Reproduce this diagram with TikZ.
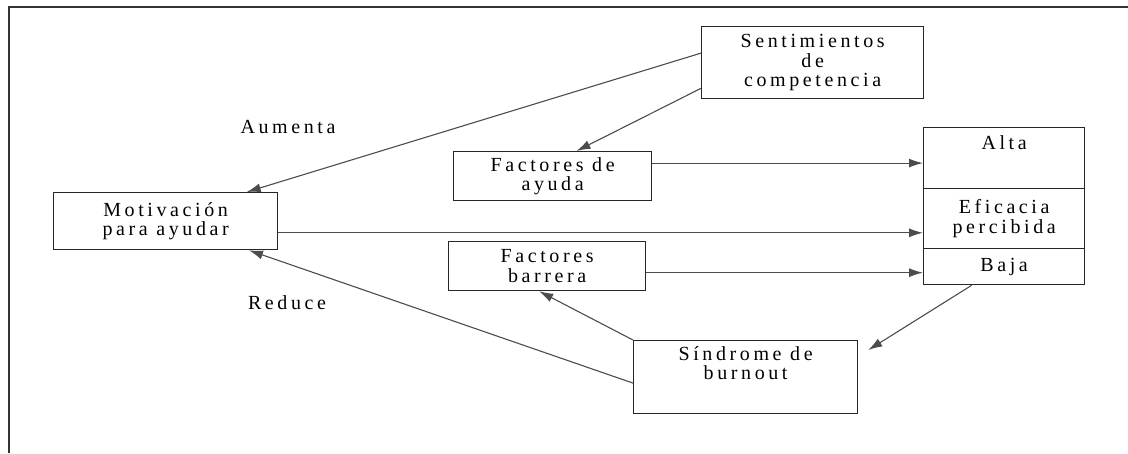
\documentclass[tikz,border=0pt]{standalone}
\usepackage{fontspec}
\setmainfont{Liberation Serif}[LetterSpace=18]
\usepackage{tikz}
\usetikzlibrary{arrows.meta,calc}
\tikzstyle{box} = [rectangle, draw=black!85, line width=1.3pt, anchor=north west, inner sep=0pt, align=center]
\tikzstyle{txt} = [anchor=north, inner sep=0pt, align=center]
\tikzstyle{arrow} = [draw=black!70, line width=1.1pt, -{Latex[length=14pt,width=9pt]}]

\begin{document}
\begin{tikzpicture}[x=1pt, y=-1pt, font=\rmfamily\fontsize{20}{19.5}\selectfont]
\useasboundingbox (0,0) rectangle (1128,453);
\draw [line width=2pt, black!80] (1128,7) -- (9,7) -- (9,453);

\node (sent) [box, minimum width=222pt, minimum height=72pt] at (701,26) {Sentimientos\\de\\competencia};
\node (fayuda) [box, minimum width=198pt, minimum height=49pt] at (453,151) {Factores de\\ayuda};
\node (fbar) [box, minimum width=197pt, minimum height=49pt] at (448,241) {Factores\\barrera};
\node (motiv) [box, minimum width=224pt, minimum height=57pt] at (53,192) {Motivación\\para ayudar};
\node (alta) [box, minimum width=161pt, minimum height=61pt] at (923,127) {};
\node (altatxt) [txt] at ([yshift=-8pt]alta.north) {Alta};
\node (efic) [box, minimum width=161pt, minimum height=60pt] at (923,188) {Eficacia\\percibida};
\node (baja) [box, minimum width=161pt, minimum height=36pt] at (923,248) {Baja};
\node (sind) [box, minimum width=224pt, minimum height=73pt] at (633,340) {};
\node (sindtxt) [txt] at ([yshift=-6pt]sind.north) {Síndrome de\\burnout};
\node (aumenta) at (288,127) {Aumenta};
\node (reduce) at (287,303) {Reduce};

%---------------------------------ARROWS
\draw [arrow] ($(sent.north west)!0.37!(sent.south west)$) -- ($(motiv.north west)!0.86!(motiv.north east)$);
\draw [arrow] ($(sent.north west)!0.85!(sent.south west)$) -- ($(fayuda.north west)!0.62!(fayuda.north east)$);
\draw [arrow] ($(fayuda.north east)!0.24!(fayuda.south east)$) coordinate (a3) -- (a3 -| alta.west);
\draw [arrow] ($(motiv.north east)!0.7!(motiv.south east)$) coordinate (a4) -- (a4 -| efic.west);
\draw [arrow] ($(fbar.north east)!0.63!(fbar.south east)$) coordinate (a5) -- (a5 -| baja.west);
\draw [arrow] ($(baja.south west)!0.3!(baja.south east)$) -- ($(sind.north east)+(10,10)$);
\draw [arrow] (sind.north west) -- ($(fbar.south west)!0.46!(fbar.south east)$);
\draw [arrow] ($(sind.north west)!0.58!(sind.south west)$) -- ($(motiv.south west)!0.87!(motiv.south east)$);

\end{tikzpicture}
\end{document}
